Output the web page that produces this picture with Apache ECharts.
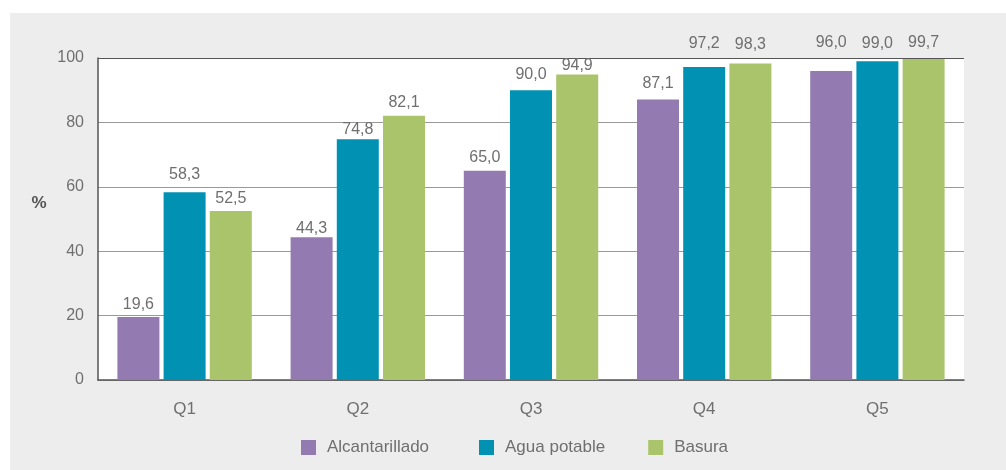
<!DOCTYPE html>
<html lang="es" style="height: 100%">
<head>
  <meta charset="utf-8">
  <title>quintiles</title>
  <script src="https://cdn.jsdelivr.net/npm/echarts@6/dist/echarts.min.js"></script>
  <style>
    html, body { height: 100%; margin: 0; background: #fff; }
  </style>
</head>
<body>
  <div id="container" style="width: 1006px; height: 470px"></div>
  <script type="text/javascript">
    var quintiles = ['Q1', 'Q2', 'Q3', 'Q4', 'Q5'];
    var alcantarillado = [19.6, 44.3, 65.0, 87.1, 96.0];
    var aguaPotable = [58.3, 74.8, 90.0, 97.2, 99.0];
    var basura = [52.5, 82.1, 94.9, 98.3, 99.7];

    // label gap above each bar (hand placed in the original)
    var gapAlc = [4, 1, 5, 8, 20];
    var gapAgua = [10, 2, 8, 15, 10];
    var gapBas = [4, 5, 1, 11, 8];

    var dom = document.getElementById('container');
    var myChart = echarts.init(dom, null, { renderer: 'canvas' });
    var font = 'Liberation Sans';
    var txt = '#6f6f6f';

    function items(values, gaps) {
      return values.map(function (v, i) {
        return { value: v, label: { distance: gaps[i] } };
      });
    }

    function barLabel() {
      return {
        show: true,
        position: 'top',
        color: txt,
        fontFamily: font,
        fontSize: 16,
        formatter: function (p) { return p.value.toFixed(1).replace('.', ','); }
      };
    }

    function legend(names, left) {
      return {
        top: 439,
        left: left,
        padding: 0,
        itemWidth: 15, itemHeight: 15, itemGap: 43,
        icon: 'rect',
        textStyle: { color: txt, fontFamily: font, fontSize: 17, padding: [0, 0, 0, 6] },
        data: names
      };
    }

    var option = {
      animation: false,
      graphic: [
        {
          type: 'rect',
          left: 10, top: 13,
          shape: { width: 996, height: 457 },
          style: { fill: '#ededed' },
          z: -10
        },
        {
          type: 'text',
          x: 39, y: 203,
          style: {
            text: '%', fill: '#555', font: 'bold 17px "Liberation Sans"',
            align: 'center', verticalAlign: 'middle'
          }
        }
      ],
      grid: {
        left: 98, right: 42, top: 58, bottom: 90,
        show: true, backgroundColor: '#fff', borderWidth: 0
      },
      legend: [
        legend(['Alcantarillado'], 301),
        legend(['Agua potable', 'Basura'], 479)
      ],
      xAxis: {
        type: 'category',
        data: quintiles,
        axisLine: { lineStyle: { color: '#555', width: 1.5 } },
        axisTick: { inside: true, length: 7, lineStyle: { color: '#555' } },
        axisLabel: { color: txt, fontFamily: font, fontSize: 17, margin: 21 }
      },
      yAxis: {
        type: 'value',
        min: 0, max: 100, interval: 20,
        axisLine: { show: true, lineStyle: { color: '#555', width: 1.5 } },
        axisTick: { show: false },
        axisLabel: { color: txt, fontFamily: font, fontSize: 16, margin: 14, padding: [0, 0, 10, 0] },
        splitLine: { lineStyle: { color: ['#999', '#999', '#999', '#999', '#999', '#555'], width: 1 } }
      },
      series: [
        {
          name: 'Alcantarillado', type: 'bar', data: items(alcantarillado, gapAlc),
          itemStyle: { color: '#937bb1' },
          barWidth: 42, barGap: '10%',
          label: barLabel()
        },
        {
          name: 'Agua potable', type: 'bar', data: items(aguaPotable, gapAgua),
          itemStyle: { color: '#0091b3' },
          barWidth: 42, barGap: '10%',
          label: barLabel()
        },
        {
          name: 'Basura', type: 'bar', data: items(basura, gapBas),
          itemStyle: { color: '#aac46b' },
          barWidth: 42, barGap: '10%',
          label: barLabel()
        }
      ]
    };

    myChart.setOption(option);
    window.addEventListener('resize', myChart.resize);
  </script>
</body>
</html>
